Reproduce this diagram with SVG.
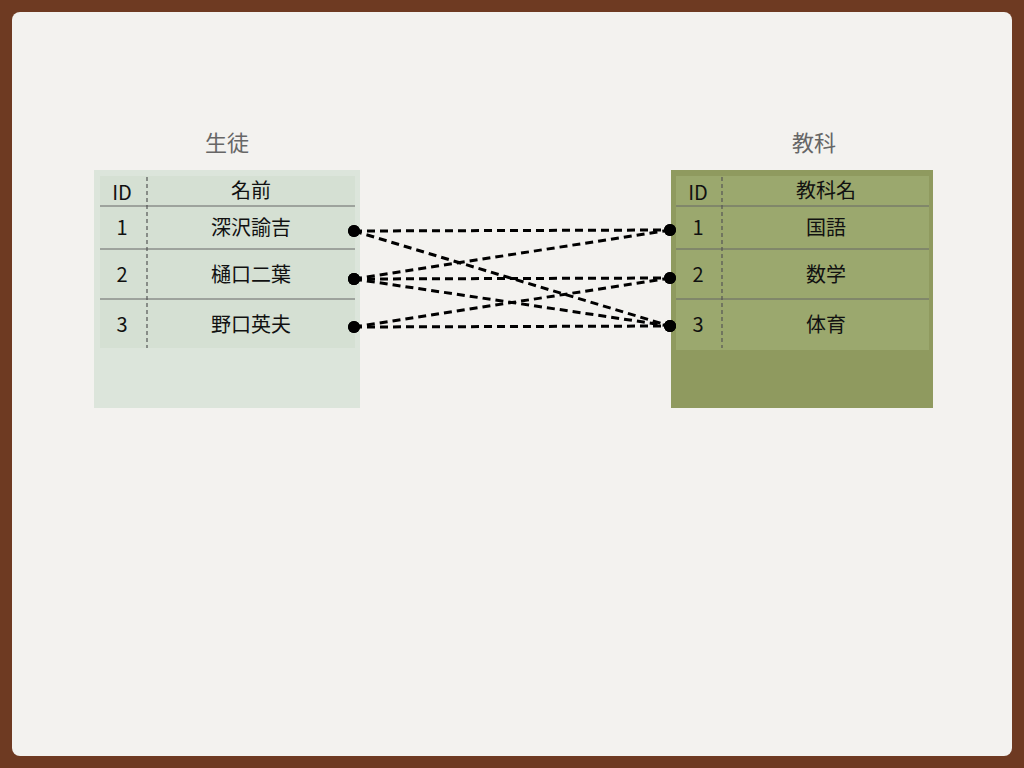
<svg xmlns="http://www.w3.org/2000/svg" width="1024" height="768" viewBox="0 0 1024 768">
<style>
text{font-family:"Noto Sans CJK JP","Liberation Sans",sans-serif;fill:#111;font-size:20px;text-anchor:middle}
.title{fill:#666;font-size:22px}
.sep{stroke:#666;stroke-width:1}
.vd{stroke:#555;stroke-width:1.2;stroke-dasharray:4,3}
.conn{stroke:#000;stroke-width:3;stroke-dasharray:8,5;fill:none}
</style>
<defs><marker id="dot" viewBox="0 0 10 10" refX="5" refY="5" markerWidth="4" markerHeight="4"><circle cx="5" cy="5" r="5" fill="#000"/></marker></defs>
<rect width="1024" height="768" fill="#6e3a22"/>
<rect x="12" y="12" width="1000" height="744" rx="8" fill="#f3f2ef"/>
<g id="seito">
<text class="title" x="227" y="151">生徒</text>
<rect x="94" y="170" width="266" height="238" fill="#dce5db"/>
<rect x="100" y="176" width="255" height="172" fill="#d5e0d3"/>
<line class="sep" x1="100" y1="206" x2="355" y2="206"/>
<line class="sep" x1="100" y1="249" x2="355" y2="249"/>
<line class="sep" x1="100" y1="299" x2="355" y2="299"/>
<line class="vd" x1="147" y1="177" x2="147" y2="348"/>
<text x="122" y="200">ID</text><text x="251" y="198">名前</text>
<text x="122" y="235">1</text><text x="251" y="235">深沢諭吉</text>
<text x="122" y="282">2</text><text x="251" y="282">樋口二葉</text>
<text x="122" y="332">3</text><text x="251" y="332">野口英夫</text>
</g>
<g id="kyouka">
<text class="title" x="814" y="151">教科</text>
<rect x="671" y="170" width="262" height="238" fill="#8f9a5f"/>
<rect x="676" y="176" width="253" height="174" fill="#9ba86e"/>
<line class="sep" x1="676" y1="206" x2="929" y2="206"/>
<line class="sep" x1="676" y1="249" x2="929" y2="249"/>
<line class="sep" x1="676" y1="299" x2="929" y2="299"/>
<line class="vd" x1="722" y1="177" x2="722" y2="348"/>
<text x="698" y="200">ID</text><text x="826" y="198">教科名</text>
<text x="698" y="235">1</text><text x="826" y="235">国語</text>
<text x="698" y="282">2</text><text x="826" y="282">数学</text>
<text x="698" y="332">3</text><text x="826" y="332">体育</text>
</g>
<g id="connectors">
<line class="conn" x1="354" y1="231" x2="670" y2="230" marker-start="url(#dot)" marker-end="url(#dot)"/>
<line class="conn" x1="354" y1="231" x2="670" y2="326" marker-start="url(#dot)" marker-end="url(#dot)"/>
<line class="conn" x1="354" y1="279" x2="670" y2="230" marker-start="url(#dot)" marker-end="url(#dot)"/>
<line class="conn" x1="354" y1="279" x2="670" y2="278" marker-start="url(#dot)" marker-end="url(#dot)"/>
<line class="conn" x1="354" y1="279" x2="670" y2="326" marker-start="url(#dot)" marker-end="url(#dot)"/>
<line class="conn" x1="354" y1="327" x2="670" y2="278" marker-start="url(#dot)" marker-end="url(#dot)"/>
<line class="conn" x1="354" y1="327" x2="670" y2="326" marker-start="url(#dot)" marker-end="url(#dot)"/>
</g>
</svg>
